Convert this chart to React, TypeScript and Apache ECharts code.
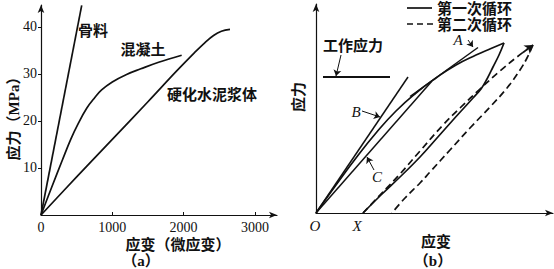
import React, { useEffect, useRef } from "react";
import * as echarts from "echarts";

// ---------- Panel (a): stress (MPa) vs strain (microstrain) ----------
const xTicksA = [0, 1000, 2000, 3000];
const yTicksA = [10, 20, 30, 40];
const aggregate = [[0, 0], [571, 44.6]];
const concrete = [
  [0, 0], [150, 5.9], [300, 11.7], [420, 16.2], [520, 19.4], [641, 22.7],
  [750, 24.9], [850, 26.6], [1000, 28.3], [1200, 29.9], [1400, 31.1],
  [1650, 32.5], [1973, 34.0],
];
const cementPaste = [
  [0, 0], [500, 8.1], [1000, 16.1], [1500, 24.1], [1900, 30.6], [2150, 34.5],
  [2300, 36.7], [2420, 38.2], [2530, 39.1], [2651, 39.5],
];

// ---------- Panel (b): loading cycles (relative units) ----------
const tangentB = [[0, 0], [92, 136]];
const secantC = [[0, 0], [116, 132]];
const tangentA = [[94, 116.5], [162, 165.5]];
const workingStress = [[7, 136], [74, 136]];
const cycle1Load = [
  [0, 0], [20, 28], [40, 55], [60, 80], [80, 102], [100, 120], [120, 135],
  [140, 148], [160, 158], [175, 164.5], [188, 170],
];
const cycle1Unload = [
  [188, 170], [183, 158], [177, 146], [171, 134], [165, 124], [157, 115],
  [147, 104], [137, 93], [121, 75], [104, 56], [84, 36], [65, 18], [47, 0],
];
const cycle2Load = [
  [47, 0], [64, 18], [84, 39], [104, 62], [127, 88], [144, 105], [164, 124],
  [184, 142], [201, 156], [217, 168],
];
const cycle2Unload = [
  [217, 168], [211, 155], [204, 143], [191, 125], [174, 106], [154, 85],
  [134, 63], [114, 41], [104, 30], [89, 15], [76, 0],
];
const leaders = [
  [[25, 158], [20, 137]],
  [[46, 102], [64, 96]],
  [[58, 43], [51, 56]],
  [[152, 173], [157, 166]],
];
const peakArrow = [[[207, 160.5], [217, 168]]];

const CJK = '"Liberation Serif", "Noto Sans CJK SC", serif';
const SERIF = '"Liberation Serif", "DejaVu Serif", serif';

function txt(text: string, x: number, y: number, opts: any = {}) {
  const align = opts.align || "center";
  return {
    type: "text",
    x,
    y,
    rotation: opts.rotation || 0,
    style: {
      text,
      font: opts.font || `bold 15px ${CJK}`,
      fill: "#111",
      align,
      verticalAlign: "middle",
      textAlign: align,
      textVerticalAlign: "middle",
    },
  };
}

export default function App() {
  const ref = useRef<HTMLDivElement>(null);

  useEffect(() => {
    document.body.style.margin = "0";
    if (!ref.current) return;
    const chart = echarts.init(ref.current, null, { renderer: "svg" });

    const axisLine = {
      show: true,
      symbol: ["none", "arrow"],
      symbolSize: [5, 8],
      lineStyle: { color: "#111", width: 1.2 },
    };
    const solid = { color: "#111", width: 1.7 };
    const dashed = { color: "#111", width: 1.7, type: [7, 4] };
    const lineS = (data: number[][], idx: number, style: any, smooth = 0.3) => ({
      type: "line",
      data,
      xAxisIndex: idx,
      yAxisIndex: idx,
      showSymbol: false,
      symbol: "none",
      smooth,
      lineStyle: style,
      silent: true,
    });
    const tickLabel = {
      margin: 5,
      color: "#111",
      fontSize: 14,
      fontFamily: "Liberation Serif",
      fontWeight: "normal",
    };

    chart.setOption({
      animation: false,
      backgroundColor: "#fff",
      grid: [
        { left: 41, top: 5, width: 236, height: 210, containLabel: false, outerBoundsMode: "none" },
        { left: 316, top: 4, width: 237, height: 209, containLabel: false, outerBoundsMode: "none" },
      ],
      xAxis: [
        {
          type: "value",
          gridIndex: 0,
          min: 0,
          max: 3310,
          interval: 1000,
          axisLine,
          splitLine: { show: false },
          axisTick: {
            show: true,
            inside: true,
            length: 3,
            customValues: [1000, 2000, 3000],
            lineStyle: { color: "#111" },
          },
          axisLabel: {
            ...tickLabel,
            customValues: xTicksA,
            formatter: (v: number) => String(v),
          },
        },
        {
          type: "value",
          gridIndex: 1,
          min: 0,
          max: 237,
          axisLine,
          splitLine: { show: false },
          axisTick: { show: false },
          axisLabel: { show: false },
        },
      ],
      yAxis: [
        {
          type: "value",
          gridIndex: 0,
          min: 0,
          max: 44.68,
          interval: 10,
          axisLine,
          splitLine: { show: false },
          axisTick: {
            show: true,
            length: 3,
            customValues: yTicksA,
            lineStyle: { color: "#111" },
          },
          axisLabel: {
            ...tickLabel,
            margin: 4,
            customValues: yTicksA,
            formatter: (v: number) => (v === 0 ? "" : String(v)),
          },
        },
        {
          type: "value",
          gridIndex: 1,
          min: 0,
          max: 209,
          axisLine,
          splitLine: { show: false },
          axisTick: { show: false },
          axisLabel: { show: false },
        },
      ],
      series: [
        lineS(aggregate, 0, solid, 0),
        lineS(concrete, 0, solid, 0.4),
        lineS(cementPaste, 0, solid, 0.4),
        lineS(tangentB, 1, { color: "#111", width: 1.5 }, 0),
        lineS(secantC, 1, { color: "#111", width: 1.5 }, 0),
        lineS(tangentA, 1, { color: "#111", width: 1.5 }, 0),
        lineS(workingStress, 1, { color: "#111", width: 2 }, 0),
        lineS(cycle1Load, 1, solid, 0.5),
        lineS(cycle1Unload, 1, solid, 0.4),
        lineS(cycle2Load, 1, dashed, 0.4),
        lineS(cycle2Unload, 1, dashed, 0.4),
        {
          type: "lines",
          coordinateSystem: "cartesian2d",
          xAxisIndex: 1,
          yAxisIndex: 1,
          symbol: ["none", "arrow"],
          symbolSize: 6,
          lineStyle: { color: "#111", width: 1, opacity: 1, curveness: 0 },
          data: leaders.map((c) => ({ coords: c })),
          silent: true,
        },
        {
          type: "lines",
          coordinateSystem: "cartesian2d",
          xAxisIndex: 1,
          yAxisIndex: 1,
          symbol: ["none", "arrow"],
          symbolSize: 8,
          lineStyle: { color: "#111", width: 1.7, opacity: 1, curveness: 0, type: [6, 3] },
          data: peakArrow.map((c) => ({ coords: c })),
          silent: true,
        },
      ],
      graphic: [
        txt("骨料", 93, 31),
        txt("混凝土", 143, 50),
        txt("硬化水泥浆体", 212, 95),
        txt("应力（MPa）", 14, 115, { rotation: Math.PI / 2 }),
        txt("应变（微应变）", 178, 245),
        txt("（a）", 141, 261),
        {
          type: "line",
          shape: { x1: 407, y1: 8, x2: 432, y2: 8 },
          style: { stroke: "#111", lineWidth: 1.7 },
        },
        {
          type: "line",
          shape: { x1: 407, y1: 24, x2: 434, y2: 24 },
          style: { stroke: "#111", lineWidth: 1.7, lineDash: [6, 4] },
        },
        txt("第一次循环", 437, 9, { align: "left" }),
        txt("第二次循环", 437, 25, { align: "left" }),
        txt("工作应力", 353, 46),
        txt("应力", 299, 97, { rotation: Math.PI / 2 }),
        txt("应变", 436, 242),
        txt("（b）", 433, 261),
        txt("O", 315, 226, { font: `italic 15px ${SERIF}` }),
        txt("X", 357, 226, { font: `italic 15px ${SERIF}` }),
        txt("A", 458, 40, { font: `italic 15px ${SERIF}` }),
        txt("B", 356, 112, { font: `italic 15px ${SERIF}` }),
        txt("C", 377, 177, { font: `italic 15px ${SERIF}` }),
      ],
    });

    return () => chart.dispose();
  }, []);

  return <div ref={ref} style={{ width: 554, height: 269 }} />;
}
